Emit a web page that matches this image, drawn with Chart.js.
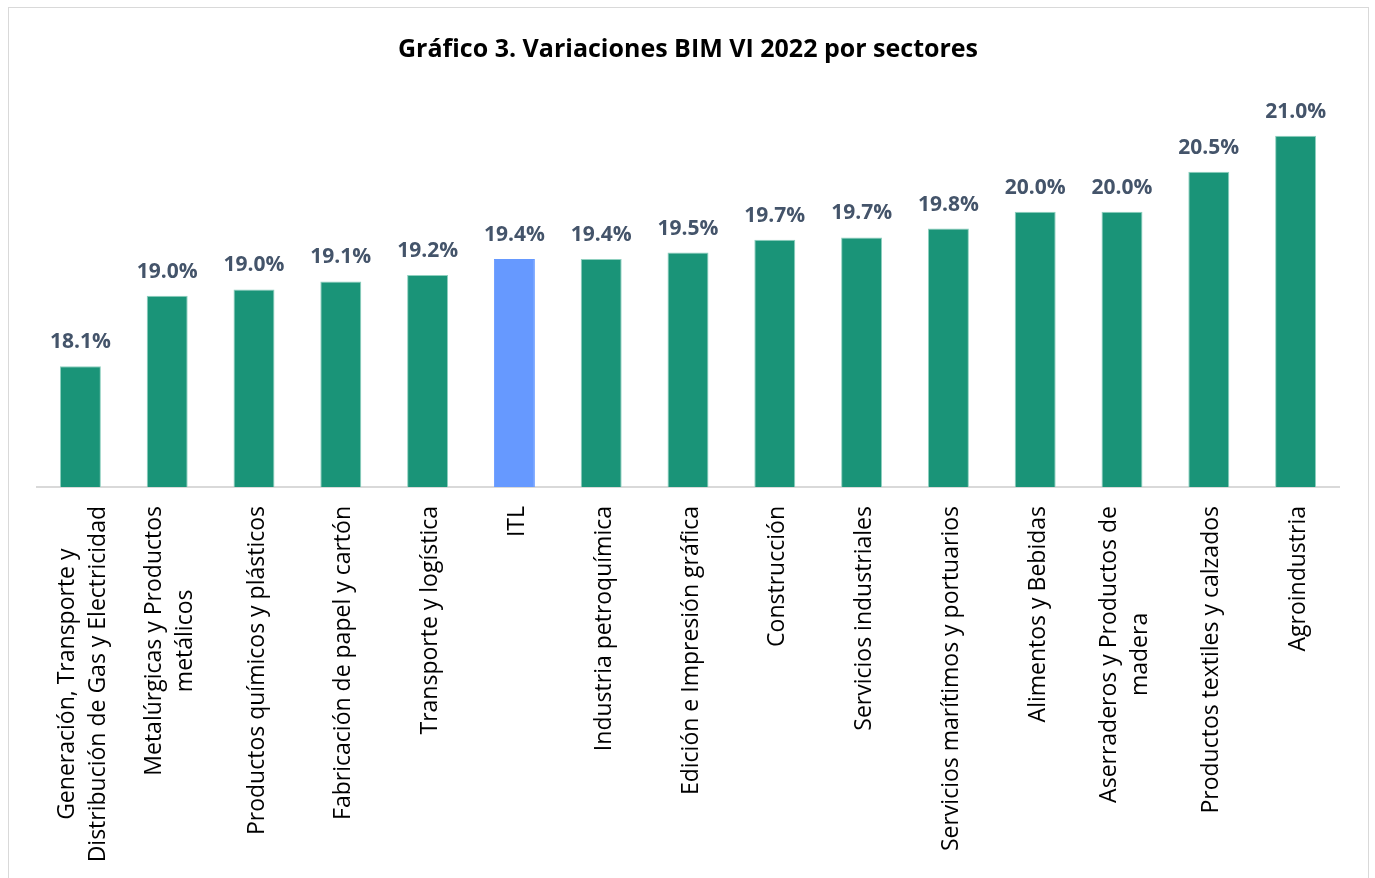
<!DOCTYPE html>
<html lang="es">
<head>
<meta charset="utf-8">
<title>Gráfico 3. Variaciones BIM VI 2022 por sectores</title>
<script src="https://cdn.jsdelivr.net/npm/chart.js@4.4.1/dist/chart.umd.min.js"></script>
<style>
  html, body { margin: 0; padding: 0; background: #fff; }
  #frame {
    position: absolute; left: 8px; top: 7px;
    width: 1359px; height: 880px;
    border: 1px solid #d9d9d9; border-bottom: none;
  }
  #chart { display: block; }
</style>
</head>
<body>
<div id="frame"><canvas id="chart" width="1359" height="870"></canvas></div>
<script>
// --- data ---
const sectors = [
  ['Generación, Transporte y', 'Distribución de Gas y Electricidad'],
  ['Metalúrgicas y Productos', 'metálicos'],
  'Productos químicos y plásticos',
  'Fabricación de papel y cartón',
  'Transporte y logística',
  'ITL',
  'Industria petroquímica',
  'Edición e Impresión gráfica',
  'Construcción',
  'Servicios industriales',
  'Servicios marítimos y portuarios',
  'Alimentos y Bebidas',
  ['Aserraderos y Productos de', 'madera'],
  'Productos textiles y calzados',
  'Agroindustria'
];
const variations = [18.08, 18.96, 19.04, 19.14, 19.22, 19.42, 19.42, 19.50, 19.66, 19.69, 19.80, 20.01, 20.01, 20.51, 20.96];
const highlight = 'ITL';

const GREEN = '#1a9478';
const BLUE = '#6699ff';
const FONT = "'Open Sans', 'DejaVu Sans', sans-serif";

const barColors = sectors.map(s => s === highlight ? BLUE : GREEN);

// --- value labels above bars + rotated category labels ---
const labelsPlugin = {
  id: 'labels',
  afterDraw(chart) {
    const ctx = chart.ctx;
    const meta = chart.getDatasetMeta(0);
    const xScale = chart.scales.x;
    const area = chart.chartArea;

    ctx.save();
    ctx.fillStyle = '#44546a';
    ctx.font = 'bold 21px ' + FONT;
    ctx.textAlign = 'center';
    ctx.textBaseline = 'alphabetic';
    meta.data.forEach((bar, i) => {
      ctx.fillText(variations[i].toFixed(1) + '%', bar.x, bar.y - 18);
    });
    ctx.restore();

    ctx.save();
    ctx.fillStyle = '#000';
    ctx.font = '23px ' + FONT;
    ctx.textAlign = 'center';
    ctx.textBaseline = 'middle';
    const lineH = 31;
    sectors.forEach((s, i) => {
      const lines = Array.isArray(s) ? s : [s];
      const w = Math.max(...lines.map(l => ctx.measureText(l).width));
      const x = xScale.getPixelForValue(i) + 3;
      ctx.save();
      ctx.translate(x, area.bottom + 19);
      ctx.rotate(-Math.PI / 2);
      lines.forEach((l, j) => {
        ctx.fillText(l, -w / 2, (j - (lines.length - 1) / 2) * lineH);
      });
      ctx.restore();
    });
    ctx.restore();
  }
};

new Chart(document.getElementById('chart'), {
  type: 'bar',
  data: {
    labels: sectors,
    datasets: [{
      data: variations,
      backgroundColor: barColors,
      borderColor: sectors.map(s => s === highlight ? BLUE : '#8fd0bf'),
      borderWidth: 1,
      categoryPercentage: 1,
      barPercentage: 0.472
    }]
  },
  options: {
    responsive: false,
    animation: false,
    layout: { padding: { left: 28, right: 29, top: 0, bottom: 0 } },
    plugins: {
      legend: { display: false },
      tooltip: { enabled: false },
      title: {
        display: true,
        text: 'Gráfico 3. Variaciones BIM VI 2022 por sectores',
        color: '#000',
        font: { family: FONT, size: 25, weight: 'bold' },
        padding: { top: 27, bottom: 33 }
      }
    },
    scales: {
      x: {
        grid: { display: false },
        border: { display: true, color: '#d9d9d9', width: 2 },
        ticks: { display: false },
        afterFit: (scale) => { scale.height = 391; }
      },
      y: {
        display: false,
        min: 16.57,
        max: 21.4325
      }
    }
  },
  plugins: [labelsPlugin]
});
</script>
</body>
</html>
